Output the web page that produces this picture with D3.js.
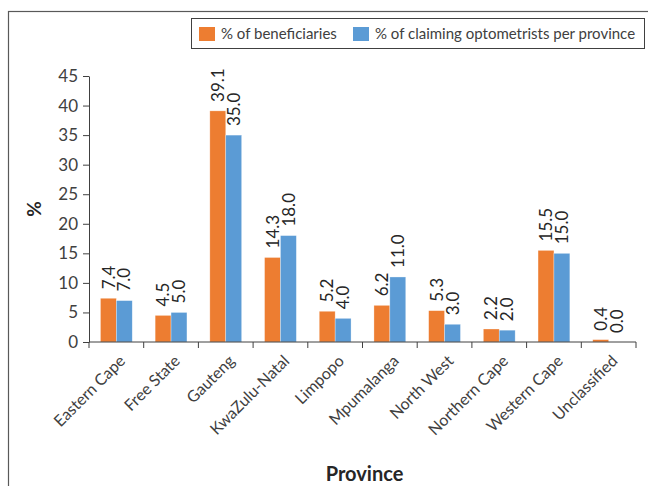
<!DOCTYPE html>
<html>
<head>
<meta charset="utf-8">
<script src="https://cdn.jsdelivr.net/npm/d3@7"></script>
<style>
  html, body { margin: 0; padding: 0; background: #fff; }
  svg { display: block; font-family: Lato, "Open Sans", sans-serif; }
</style>
</head>
<body>
<svg id="chart" width="648" height="486"></svg>
<script>
// Provinces and the two percentage series
const provinces = ["Eastern Cape", "Free State", "Gauteng", "KwaZulu-Natal", "Limpopo",
  "Mpumalanga", "North West", "Northern Cape", "Western Cape", "Unclassified"];
const beneficiaries = [7.4, 4.5, 39.1, 14.3, 5.2, 6.2, 5.3, 2.2, 15.5, 0.4];
const optometrists = [7.0, 5.0, 35.0, 18.0, 4.0, 11.0, 3.0, 2.0, 15.0, 0.0];
const seriesNames = ["% of beneficiaries", "% of claiming optometrists per province"];
const yTicks = [0, 5, 10, 15, 20, 25, 30, 35, 40, 45];

const colors = ["#ED7D31", "#5B9BD5"];
const ink = "#404040";

const svg = d3.select("#chart");

// Outer frame
svg.append("rect")
  .attr("x", 8.5).attr("y", 11.5).attr("width", 700).attr("height", 600)
  .attr("fill", "none").attr("stroke", "#595959").attr("stroke-width", 1.2);

const plotLeft = 89, plotRight = 636, plotTop = 76, plotBottom = 342;

const x = d3.scaleBand().domain(provinces).range([plotLeft, plotRight]).paddingInner(0).paddingOuter(0);
const inner = d3.scaleBand().domain([0, 1]).range([0, x.bandwidth()]).paddingInner(0).paddingOuter(0.72);
const y = d3.scaleLinear().domain([0, 45]).range([plotBottom, plotTop]);

const series = [beneficiaries, optometrists];

// Bars
series.forEach((vals, si) => {
  svg.append("g").selectAll("rect")
    .data(vals)
    .join("rect")
    .attr("x", (d, i) => x(provinces[i]) + inner(si))
    .attr("y", d => y(d))
    .attr("width", inner.bandwidth())
    .attr("height", d => y(0) - y(d))
    .attr("fill", colors[si])
    .attr("stroke", "rgba(255,255,255,0.5)")
    .attr("stroke-width", 0.6);
});

// Value labels, rotated
series.forEach((vals, si) => {
  svg.append("g").selectAll("text")
    .data(vals)
    .join("text")
    .attr("transform", (d, i) => {
      const cx = x(provinces[i]) + inner(si) + inner.bandwidth() / 2;
      return `translate(${cx},${y(d) - 9}) rotate(-90)`;
    })
    .attr("dy", "0.36em")
    .attr("text-anchor", "start")
    .attr("font-size", 17)
    .attr("fill", "#262626")
    .text(d => d.toFixed(1));
});

// Y axis
const yAxis = svg.append("g")
  .attr("transform", `translate(${plotLeft},0)`)
  .call(d3.axisLeft(y).tickValues(yTicks).tickSize(6).tickPadding(5).tickSizeOuter(0));
yAxis.select(".domain").attr("stroke", ink);
yAxis.selectAll(".tick line").attr("stroke", ink);
yAxis.selectAll(".tick text").attr("font-size", 17).attr("fill", ink).attr("font-family", "Lato, sans-serif");

// X axis: line with ticks at category boundaries
const xg = svg.append("g").attr("transform", `translate(0,${plotBottom})`);
xg.append("line").attr("x1", plotLeft).attr("x2", plotRight).attr("stroke", ink);
const bounds = provinces.map(p => x(p)).concat([x(provinces[provinces.length - 1]) + x.bandwidth()]);
xg.selectAll("line.tk").data(bounds).join("line")
  .attr("class", "tk")
  .attr("x1", d => d).attr("x2", d => d).attr("y1", 0).attr("y2", 6)
  .attr("stroke", ink);
xg.selectAll("text").data(provinces).join("text")
  .attr("transform", d => `translate(${x(d) + x.bandwidth() / 2 + 6},${16}) rotate(-45)`)
  .attr("text-anchor", "end")
  .attr("dy", "0.35em")
  .attr("font-size", 16)
  .attr("fill", ink)
  .text(d => d);

// Axis titles
svg.append("text")
  .attr("transform", `translate(34,${(plotTop + plotBottom) / 2}) rotate(-90)`)
  .attr("text-anchor", "middle")
  .attr("dy", "0.35em")
  .attr("font-size", 19).attr("font-weight", "bold").attr("fill", "#262626")
  .text("%");
svg.append("text")
  .attr("x", (plotLeft + plotRight) / 2 + 2).attr("y", 481)
  .attr("text-anchor", "middle")
  .attr("font-size", 20).attr("font-weight", "bold").attr("fill", "#262626")
  .text("Province");

// Legend
const lg = svg.append("g");
lg.append("rect").attr("x", 191.5).attr("y", 18.5).attr("width", 453).attr("height", 30)
  .attr("fill", "#fff").attr("stroke", ink);
const legendX = [199, 353];
seriesNames.forEach((name, i) => {
  lg.append("rect").attr("x", legendX[i]).attr("y", 27).attr("width", 16).attr("height", 14)
    .attr("fill", colors[i]);
  lg.append("text").attr("x", legendX[i] + 22).attr("y", 34).attr("dy", "0.35em")
    .attr("font-size", 15).attr("fill", ink).text(name);
});
</script>
</body>
</html>
